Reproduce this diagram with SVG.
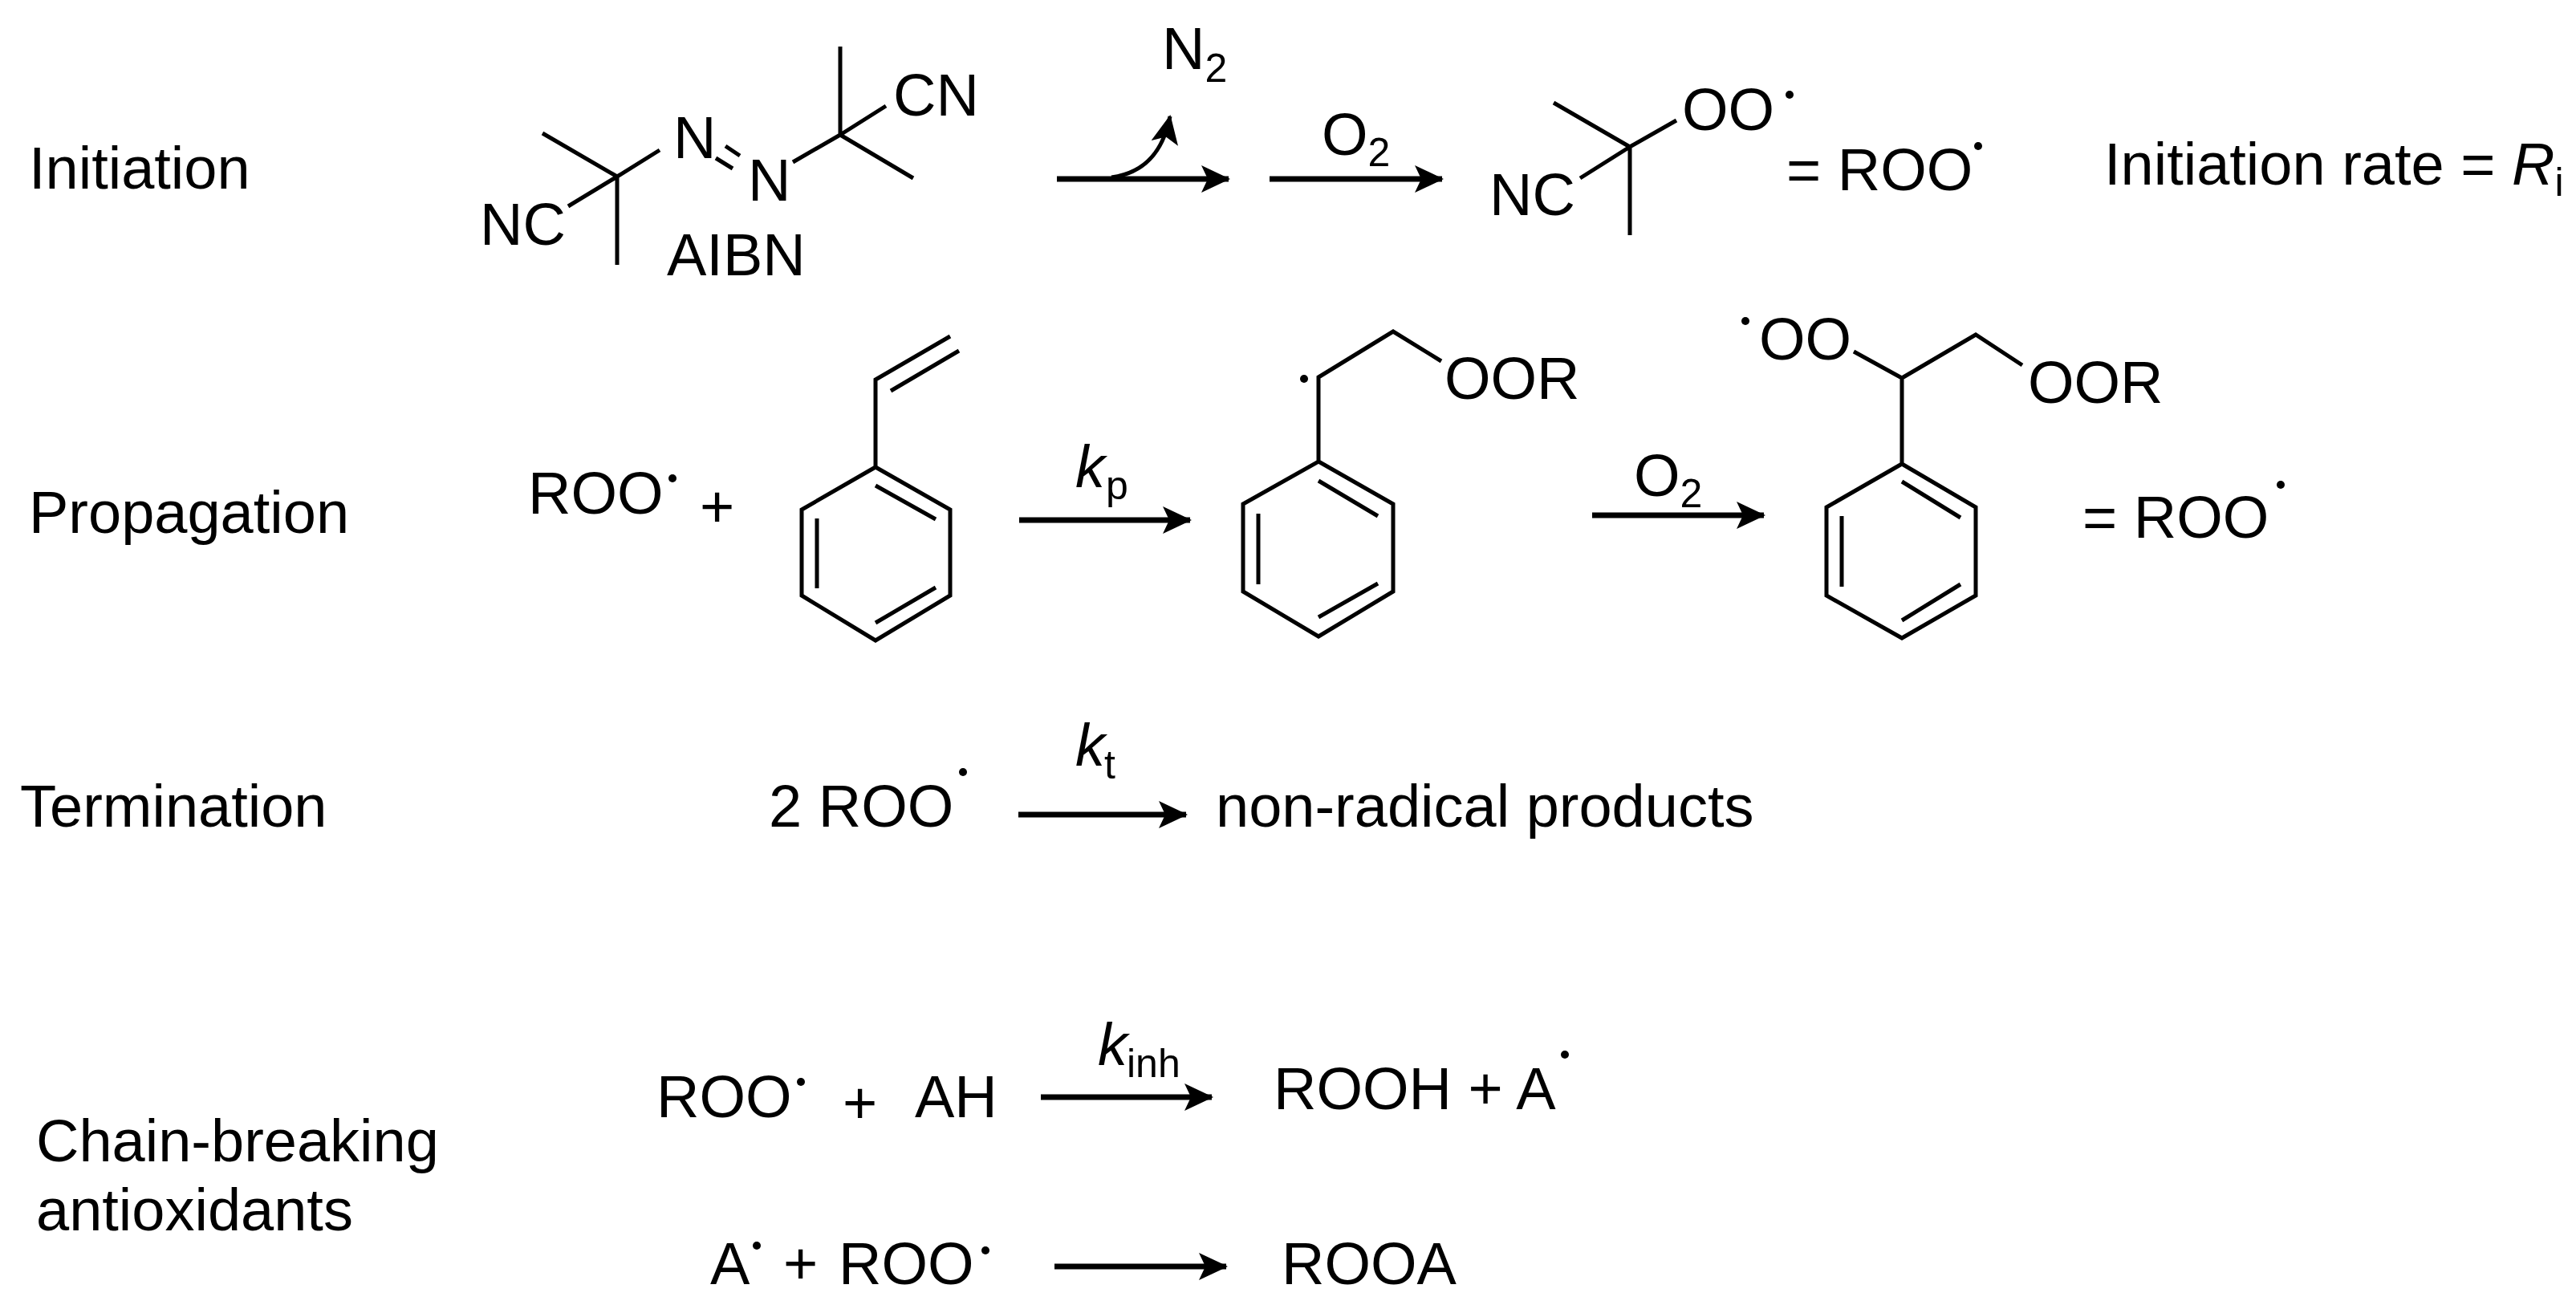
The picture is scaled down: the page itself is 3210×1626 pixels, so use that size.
<svg xmlns="http://www.w3.org/2000/svg" width="3210" height="1626" viewBox="0 0 3210 1626">
<style>
text{font-family:"Liberation Sans",Arial,sans-serif;font-size:74px;fill:#000}
.sub{font-size:50px}
.it{font-style:italic}
.b{stroke:#000;stroke-width:5;fill:none;stroke-linecap:butt}
.ar{stroke:#000;stroke-width:7;fill:none}
</style>
<defs>
<marker id="ah" markerUnits="userSpaceOnUse" markerWidth="40" markerHeight="34" refX="34" refY="17" orient="auto"><path d="M0,0 L36,17 L0,34 L8,17 Z" fill="#000"/></marker>
</defs>
<rect width="3210" height="1626" fill="#fff"/>
<g id="labels">
<text x="36" y="235">Initiation</text>
<text x="36" y="664">Propagation</text>
<text x="25" y="1030">Termination</text>
<text x="45" y="1447">Chain-breaking</text>
<text x="45" y="1533">antioxidants</text>
</g>
<g id="aibn">
<path class="b" d="M676,166 L769,220 L822,187 M708,257 L769,220 L769,330 M904,182 L922,194 M892,197 L913,210 M988,202 L1047,168 L1047,58 M1047,168 L1104,132 M1047,168 L1138,222"/>
<text x="839" y="197">N</text>
<text x="932" y="250">N</text>
<text x="1113" y="144">CN</text>
<text x="598" y="305">NC</text>
<text x="831" y="343">AIBN</text>
</g>
<g id="n2">
<text x="1448" y="86">N<tspan class="sub" dy="16">2</tspan></text>
</g>
<g id="roo-init">
<path class="b" d="M1936,128 L2031,183 L2089,150 M1969,222 L2031,183 L2031,293"/>
<text x="2096" y="162">OO</text>
<circle cx="2230" cy="118" r="5"/>
<text x="1856" y="268">NC</text>
<text x="2226" y="237">= ROO</text>
<circle cx="2465" cy="182" r="5"/>
<text x="2622" y="230">Initiation rate = <tspan class="it">R</tspan><tspan class="sub" dy="14">i</tspan></text>
</g>
<g id="prop-reactants">
<text x="658" y="640">ROO</text>
<circle cx="838" cy="596" r="5"/>
<text x="872" y="657">+</text>
</g>
<g id="styrene">
<path class="b" d="M1091,582 L1184,635 L1184,742 L1091,798 L999,742 L999,635 Z M1091,605 L1166,647 M1018,646 L1018,733 M1166,732 L1091,776 M1091,582 L1091,473 L1184,419 M1110,487 L1195,437"/>
</g>
<g id="intermediate">
<path class="b" d="M1643,575 L1736,628 L1736,737 L1643,793 L1549,737 L1549,628 Z M1643,599 L1717,643 M1568,640 L1568,728 M1717,727 L1643,769 M1643,575 L1643,470 L1736,413 L1796,450"/>
<circle cx="1625" cy="472" r="5"/>
<text x="1800" y="497">OOR</text>
</g>
<g id="peroxyl">
<path class="b" d="M2370,578 L2462,632 L2462,742 L2370,795 L2276,742 L2276,632 Z M2370,600 L2443,645 M2295,643 L2295,731 M2443,728 L2370,773 M2370,578 L2370,471 L2310,438 M2370,471 L2462,417 L2520,455"/>
<text x="2192" y="448">OO</text>
<circle cx="2175" cy="400" r="5"/>
<text x="2527" y="502">OOR</text>
<text x="2595" y="670">= ROO</text>
<circle cx="2842" cy="604" r="5"/>
</g>
<g id="termination">
<text x="958" y="1030">2 ROO</text>
<circle cx="1200" cy="962" r="5"/>
<text x="1515" y="1030">non-radical products</text>
</g>
<g id="antiox1">
<text x="818" y="1392">ROO</text>
<circle cx="998" cy="1348" r="5"/>
<text x="1050" y="1400">+</text>
<text x="1140" y="1392">AH</text>
<text x="1587" y="1382">ROOH + A</text>
<circle cx="1950" cy="1314" r="5"/>
</g>
<g id="antiox2">
<text x="885" y="1600">A</text>
<circle cx="943" cy="1552" r="5"/>
<text x="976" y="1600">+</text>
<text x="1045" y="1600">ROO</text>
<circle cx="1228" cy="1558" r="5"/>
<text x="1597" y="1600">ROOA</text>
</g>
<g id="connectors">
<line class="ar" x1="1317" y1="223" x2="1531" y2="223" marker-end="url(#ah)"/>
<path class="b" d="M1385,221 C1430,215 1450,185 1458,145" marker-end="url(#ah)"/>
<line class="ar" x1="1582" y1="223" x2="1797" y2="223" marker-end="url(#ah)"/>
<text x="1647" y="193">O<tspan class="sub" dy="14">2</tspan></text>
<line class="ar" x1="1270" y1="648" x2="1483" y2="648" marker-end="url(#ah)"/>
<text class="it" x="1340" y="607">k</text><text class="sub" x="1378" y="622">p</text>
<line class="ar" x1="1984" y1="642" x2="2198" y2="642" marker-end="url(#ah)"/>
<text x="2036" y="618">O<tspan class="sub" dy="14">2</tspan></text>
<line class="ar" x1="1269" y1="1015" x2="1478" y2="1015" marker-end="url(#ah)"/>
<text class="it" x="1340" y="954">k</text><text class="sub" x="1376" y="970">t</text>
<line class="ar" x1="1297" y1="1367" x2="1510" y2="1367" marker-end="url(#ah)"/>
<text class="it" x="1368" y="1327">k</text><text class="sub" x="1404" y="1342">inh</text>
<line class="ar" x1="1314" y1="1578" x2="1528" y2="1578" marker-end="url(#ah)"/>
</g>
</svg>
